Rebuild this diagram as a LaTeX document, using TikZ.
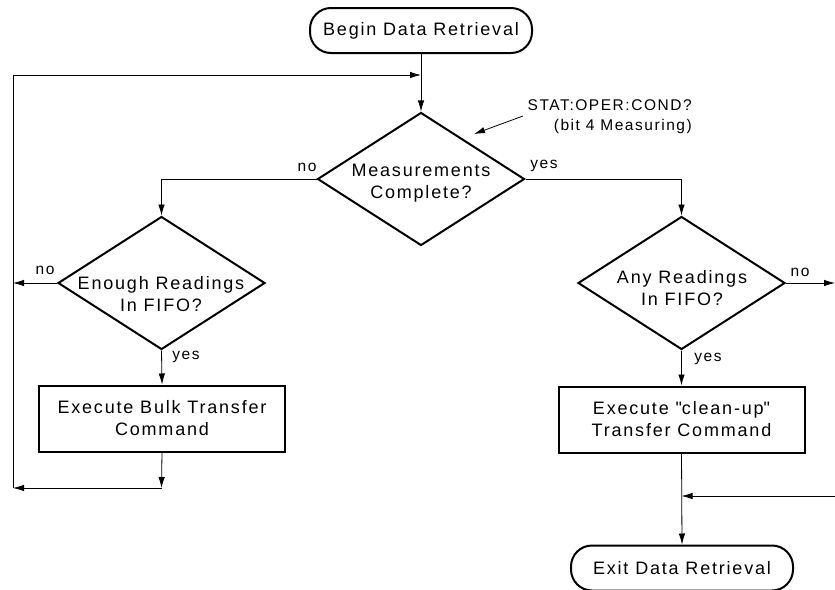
\documentclass[tikz,border=0pt]{standalone}
\usepackage{fontspec}
\setmainfont{Liberation Sans}[LetterSpace=10]
\usetikzlibrary{shapes.geometric,arrows.meta}
\tikzset{
  big/.style={font=\fontsize{18}{22}\selectfont},
  lbl/.style={font=\fontsize{15.5}{20}\selectfont, inner sep=0pt},
  term/.style={draw, line width=2pt, rounded corners=21pt, minimum width=222pt, minimum height=45pt, big, inner sep=0pt},
  dec/.style={draw, diamond, line width=2pt, minimum width=207pt, minimum height=133pt, inner sep=0pt},
  proc/.style={draw, line width=2pt, minimum width=246pt, minimum height=66pt, big, align=center, inner sep=0pt},
  txt/.style={big, align=center, inner sep=0pt},
  wire/.style={line width=0.8pt},
  conn/.style={wire, -{Latex[length=11pt,width=6.5pt]}}
}
\begin{document}
\begin{tikzpicture}[x=1pt,y=-1pt]
\useasboundingbox (0,0) rectangle (835,589);

% nodes
\node[term] (begin) at (421,30.5) {Begin Data Retrieval};
\node[dec] (meas) at (421,179) {};
\node[txt] (meast) at (421,183) {Measurements\\Complete?};
\node[dec] (enough) at (161.5,283) {};
\node[txt] (enought) at (161,294) {Enough Readings\\In FIFO?};
\node[dec] (any) at (681.5,283) {};
\node[txt] (anyt) at (682,288) {Any Readings\\In FIFO?};
\node[proc] (bulk) at (162,418.5) {Execute Bulk Transfer\\Command};
\node[proc] (clean) at (681.5,419.5) {Execute \textquotedbl clean-up\textquotedbl\\Transfer Command};
\node[term] (exit) at (682,568) {Exit Data Retrieval};

\node[lbl, align=right, anchor=north east] (note) at (692,99) {STAT:OPER:COND?\\(bit 4 Measuring)};

% coordinates
\coordinate (join) at (421,75);
\coordinate (tl) at (13,75);
\coordinate (noL) at (13,283);
\coordinate (bc) at (161.5,488);
\coordinate (bl) at (13,488);
\coordinate (noR) at (835,283);
\coordinate (inR) at (835,496);
\coordinate (cj) at (681.5,496);
\coordinate (ns) at (523,116);
\coordinate (nt) at (474,134);

% connectors
\draw[conn] (begin) -- (meas);
\draw[conn] (meas.west) -| (enough.north);
\draw[conn] (meas.east) -| (any.north);
\draw[conn] (enough.west) -- (noL);
\draw[conn] (enough.south) -- (bulk.north);
\draw[conn] (bulk.south) -- (bc);
\draw[conn] (bc) -- (bl);
\draw[conn] (bl) -- (tl) -- (join);
\draw[conn] (any.east) -- (noR);
\draw[conn] (any.south) -- (clean.north);
\draw[conn] (clean.south) -- (exit.north);
\draw[conn] (inR) -- (cj);
\draw[conn] (ns) -- (nt);

% labels
\node[lbl] at (307,167) {no};
\node[lbl] at (544,166) {yes};
\node[lbl] at (45,270) {no};
\node[lbl] at (800,272) {no};
\node[lbl] at (186,357) {yes};
\node[lbl] at (708,359) {yes};
\end{tikzpicture}
\end{document}
